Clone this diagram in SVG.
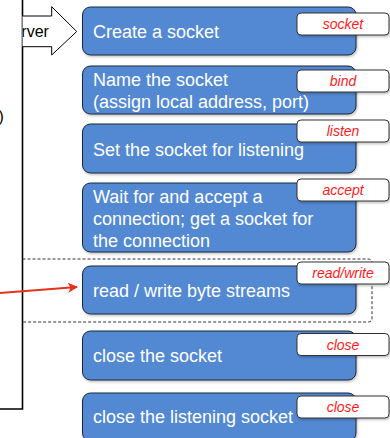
<svg xmlns="http://www.w3.org/2000/svg" width="390" height="438" viewBox="0 0 390 438">
  <defs>
    <style>
      .step { fill: #5289d3; stroke: #1c2838; stroke-width: 1; filter: url(#shadow); }
      .step-text { font-family: "Liberation Sans", Arial, sans-serif; font-size: 18px; fill: #ffffff; }
      .call { fill: #ffffff; stroke: #333333; stroke-width: 1; filter: url(#shadow); }
      .call-text { font-family: "Liberation Sans", Arial, sans-serif; font-size: 14px; font-style: italic; fill: #ff1a1a; text-anchor: middle; }
      .frame { fill: none; stroke: #000000; stroke-width: 1.6; }
      .side-text { font-family: "Liberation Sans", Arial, sans-serif; font-size: 16px; fill: #000000; }
    </style>
    <filter id="shadow" x="-10%" y="-20%" width="130%" height="150%">
      <feDropShadow dx="1" dy="1.5" stdDeviation="1" flood-color="#000000" flood-opacity="0.25"/>
    </filter>
    <clipPath id="panelClip">
      <rect x="22.8" y="0" width="100" height="80"/>
    </clipPath>
    <marker id="redHead" markerWidth="10" markerHeight="10" refX="9" refY="5" orient="auto" markerUnits="userSpaceOnUse">
      <path d="M0,0 L10,5 L0,10 L2.5,5 Z" fill="#e5321c"/>
    </marker>
  </defs>

  <!-- left panel (server side) -->
  <g id="server-panel">
    <path class="frame" d="M22.5,0 V409 H0"/>
    <text class="side-text" x="-1.5" y="121.5">)</text>
  </g>

  <!-- block arrow into the first step -->
  <g id="server-arrow">
    <path d="M22.5,16 H51.7 V6.7 L76.7,31.5 L51.7,55 V46.7 H22.5" fill="#ffffff" stroke="#000000" stroke-width="1"/>
    <g clip-path="url(#panelClip)">
      <text class="side-text" x="21.3" y="37">rver</text>
    </g>
  </g>

  <!-- connectors -->
  <g id="connectors">
    <!-- data transfer loop boundary -->
    <path d="M22.5,259 H368 Q372,259 372,263 V318 Q372,322 368,322 H22.5" fill="none" stroke="#333333" stroke-width="1" stroke-dasharray="3,2"/>
    <!-- incoming client traffic -->
    <line x1="0" y1="293" x2="77" y2="287" stroke="#e5321c" stroke-width="2" marker-end="url(#redHead)"/>
  </g>

  <!-- steps -->
  <g id="step-socket">
    <rect class="step" x="82.5" y="7" width="273.5" height="48" rx="8"/>
    <text class="step-text" x="93" y="38">Create a socket</text>
  </g>
  <g id="step-bind">
    <rect class="step" x="82.5" y="66" width="273.5" height="48" rx="8"/>
    <text class="step-text" x="93" y="86">Name the socket</text>
    <text class="step-text" x="93" y="108">(assign local address, port)</text>
  </g>
  <g id="step-listen">
    <rect class="step" x="82.5" y="124" width="273.5" height="49" rx="8"/>
    <text class="step-text" x="93" y="156">Set the socket for listening</text>
  </g>
  <g id="step-accept">
    <rect class="step" x="82.5" y="183" width="273.5" height="69" rx="8"/>
    <text class="step-text" x="93" y="203">Wait for and accept a</text>
    <text class="step-text" x="93" y="225">connection; get a socket for</text>
    <text class="step-text" x="93" y="247">the connection</text>
  </g>
  <g id="step-readwrite">
    <rect class="step" x="82.5" y="266" width="273.5" height="48" rx="8"/>
    <text class="step-text" x="93" y="297">read / write byte streams</text>
  </g>
  <g id="step-close">
    <rect class="step" x="82.5" y="331" width="273.5" height="49" rx="8"/>
    <text class="step-text" x="93" y="362">close the socket</text>
  </g>
  <g id="step-close-listen">
    <rect class="step" x="82.5" y="393" width="273.5" height="48" rx="8"/>
    <text class="step-text" x="93" y="423">close the listening socket</text>
  </g>

  <!-- API call tags -->
  <g id="tag-socket">
    <rect class="call" x="297" y="13" width="92" height="22" rx="4"/>
    <text class="call-text" x="343" y="29">socket</text>
  </g>
  <g id="tag-bind">
    <rect class="call" x="297" y="70" width="92" height="22" rx="4"/>
    <text class="call-text" x="343" y="86">bind</text>
  </g>
  <g id="tag-listen">
    <rect class="call" x="297" y="120" width="92" height="22" rx="4"/>
    <text class="call-text" x="343" y="136">listen</text>
  </g>
  <g id="tag-accept">
    <rect class="call" x="297" y="179" width="92" height="22" rx="4"/>
    <text class="call-text" x="343" y="195">accept</text>
  </g>
  <g id="tag-readwrite">
    <rect class="call" x="297" y="262" width="92" height="22" rx="4"/>
    <text class="call-text" x="343" y="278">read/write</text>
  </g>
  <g id="tag-close">
    <rect class="call" x="297" y="333.5" width="92" height="22" rx="4"/>
    <text class="call-text" x="343" y="349.5">close</text>
  </g>
  <g id="tag-close-listen">
    <rect class="call" x="297" y="396" width="92" height="22" rx="4"/>
    <text class="call-text" x="343" y="412">close</text>
  </g>
</svg>
